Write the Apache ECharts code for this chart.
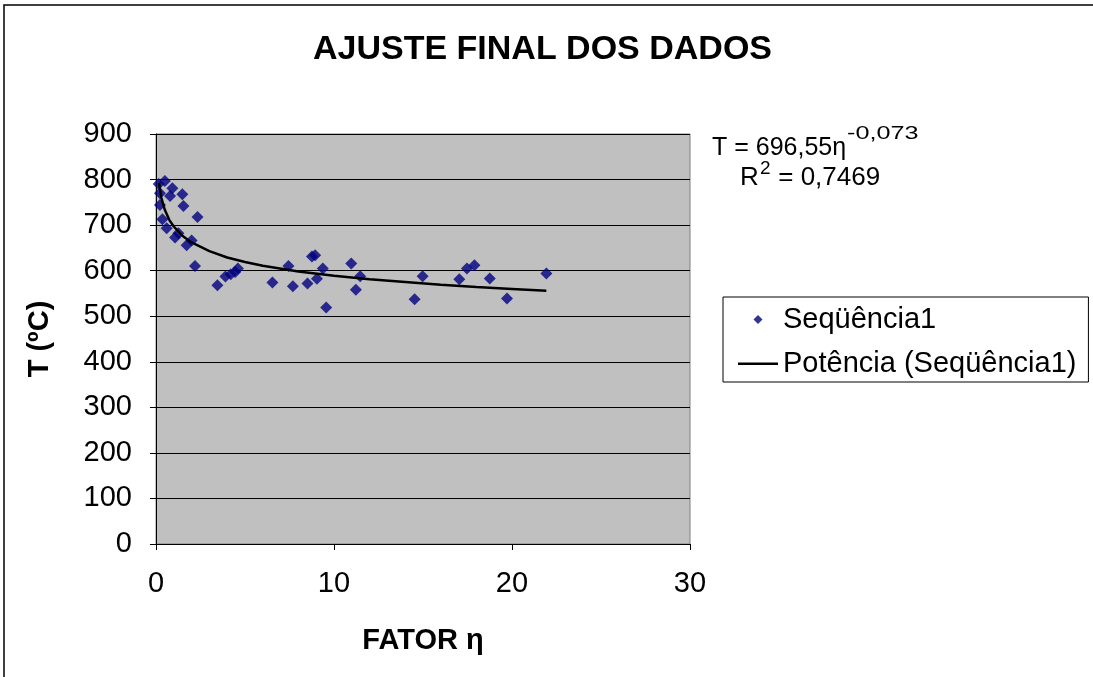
<!DOCTYPE html>
<html>
<head>
<meta charset="utf-8">
<script src="https://cdn.jsdelivr.net/npm/echarts@6/dist/echarts.min.js"></script>
<style>
html,body{margin:0;padding:0;background:#fff;}
#c{width:1093px;height:677px;}
</style>
</head>
<body>
<div id="c"></div>
<script>
// Data
const etaValues = [0.15, 0.5, 0.92, 0.79, 0.22, 1.48, 1.54, 0.22, 2.33, 0.36, 0.6, 1.26, 1.07, 2.0, 1.72, 2.19,
  3.45, 3.9, 4.2, 4.45, 4.6, 6.54, 7.44, 7.69, 8.51, 8.76, 8.94, 9.37, 9.04, 9.56, 10.97, 11.47, 11.23,
  14.53, 14.98, 17.04, 17.47, 17.89, 18.75, 19.72, 21.93];
const tempValues = [790, 797, 781, 764, 770, 768, 742, 744, 718, 713, 693, 682, 673, 666, 656, 610,
  568, 587, 592, 597, 605, 574, 610, 566, 572, 631, 634, 605, 582, 519, 616, 588, 558,
  537, 588, 581, 605, 612, 583, 539, 594];
// Trend line (Potência) values
const trendEta = [0.17, 0.3, 0.5, 0.75, 1, 1.5, 2, 3, 4, 5, 6, 8, 10, 12, 14, 16, 18, 20, 21.93];
const trendT   = [793, 760, 733, 711, 697, 676, 662, 643, 629, 619, 611, 598, 589, 581, 575, 569, 564, 560, 556];
const yTicks = [0, 100, 200, 300, 400, 500, 600, 700, 800, 900];
const xTicks = [0, 10, 20, 30];

const scatterData = etaValues.map((x, i) => [x, tempValues[i]]);
const trendData = trendEta.map((x, i) => [x, trendT[i]]);

const FONT = '"Liberation Sans", Arial, sans-serif';
const chart = echarts.init(document.getElementById('c'), null, {renderer: 'canvas'});
chart.setOption({
  animation: false,
  backgroundColor: '#ffffff',
  textStyle: {fontFamily: FONT, color: '#000'},
  title: {
    text: 'AJUSTE FINAL DOS DADOS',
    left: 308,
    top: 28,
    textStyle: {fontFamily: FONT, fontSize: 34, fontWeight: 'bold', color: '#000', lineHeight: 34}
  },
  grid: {left: 156, top: 134, width: 534, height: 410, show: true, backgroundColor: '#C0C0C0', borderColor: '#808080', borderWidth: 1},
  legend: {
    orient: 'vertical',
    left: 723,
    top: 297,
    padding: [7, 12, 3, 15],
    borderColor: '#000',
    borderWidth: 1,
    itemWidth: 40,
    itemHeight: 10,
    itemGap: 13,
    textStyle: {fontFamily: FONT, fontSize: 29, color: '#000', lineHeight: 31},
    data: [
      {name: 'Seqüência1', icon: 'path://M0,0 M40,10 M20,0.5 L24.5,5 L20,9.5 L15.5,5 Z', itemStyle: {color: '#000080'}},
      {name: 'Potência (Seqüência1)', icon: 'path://M0,0 M40,10 M0,4 L40,4 L40,6.4 L0,6.4 Z', itemStyle: {color: '#000'}}
    ]
  },
  xAxis: {
    type: 'value',
    min: 0, max: 30, interval: 10,
    name: 'FATOR η',
    nameLocation: 'middle',
    nameGap: 82,
    nameTextStyle: {fontFamily: FONT, fontSize: 29, fontWeight: 'bold', color: '#000'},
    axisLine: {onZero: false, lineStyle: {color: '#000', width: 1}},
    axisTick: {show: true, inside: false, length: 6, lineStyle: {color: '#000'}},
    axisLabel: {fontFamily: FONT, fontSize: 29, color: '#000', margin: 25,
      formatter: v => xTicks.includes(v) ? String(v) : ''},
    splitLine: {show: false}
  },
  yAxis: {
    type: 'value',
    min: 0, max: 900, interval: 100,
    name: 'T (ºC)',
    nameLocation: 'middle',
    nameGap: 102,
    nameRotate: 90,
    nameTextStyle: {fontFamily: FONT, fontSize: 29, fontWeight: 'bold', color: '#000'},
    axisLine: {show: true, onZero: false, lineStyle: {color: '#000', width: 1}},
    axisTick: {show: true, inside: false, length: 6, lineStyle: {color: '#000'}},
    axisLabel: {fontFamily: FONT, fontSize: 29, color: '#000', margin: 24,
      formatter: v => yTicks.includes(v) ? String(v) : ''},
    splitLine: {show: true, lineStyle: {color: '#000', width: 1}}
  },
  graphic: [
    {type: 'rect', silent: true, z: -10, shape: {x: 4, y: 5, width: 1100, height: 700},
      style: {fill: 'none', stroke: '#000', lineWidth: 1.5}},
    {type: 'text', left: 712, top: 136, style: {text: 'T = 696,55η', font: '25px ' + FONT, fill: '#000'}},
    {type: 'text', x: 847, y: 125, scaleX: 1.4, style: {text: '-0,073', font: '18px ' + FONT, fill: '#000'}},
    {type: 'text', left: 740, top: 165, style: {text: 'R', font: '26px ' + FONT, fill: '#000'}},
    {type: 'text', left: 760, top: 159, style: {text: '2', font: '19px ' + FONT, fill: '#000'}},
    {type: 'text', left: 771, top: 165, style: {text: ' = 0,7469', font: '26px ' + FONT, fill: '#000'}}
  ],
  series: [
    {
      name: 'Seqüência1',
      type: 'scatter',
      symbol: 'diamond',
      symbolSize: 12,
      itemStyle: {color: '#000080'},
      data: scatterData,
      z: 3
    },
    {
      name: 'Potência (Seqüência1)',
      type: 'line',
      showSymbol: false,
      symbol: 'none',
      lineStyle: {color: '#000', width: 2.5},
      itemStyle: {color: '#000'},
      data: trendData,
      z: 4
    }
  ]
});
</script>
</body>
</html>
